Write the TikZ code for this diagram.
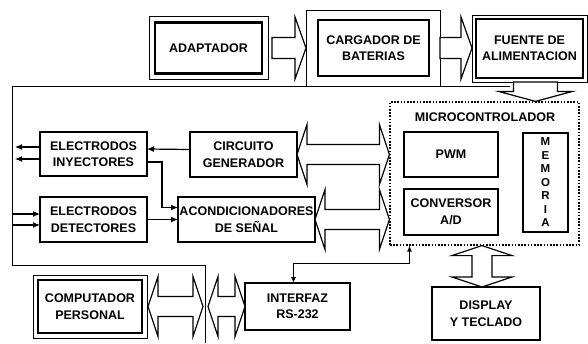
\documentclass[tikz,border=0pt]{standalone}
\usepackage{fontspec}
\setmainfont{Liberation Sans}
\usetikzlibrary{arrows.meta,calc}

% double headed block arrows (horizontal / vertical)
\newcommand{\hbiarrow}[2]{%
  \draw[blockarrow] let \p1=#1, \p2=#2 in
    (\x1,\y1) -- (\x1+10pt,\y1+30pt) -- (\x1+10pt,\y1+10pt) -- (\x2-10pt,\y1+10pt)
    -- (\x2-10pt,\y1+30pt) -- (\x2,\y1) -- (\x2-10pt,\y1-30pt) -- (\x2-10pt,\y1-10pt)
    -- (\x1+10pt,\y1-10pt) -- (\x1+10pt,\y1-30pt) -- cycle;}
\newcommand{\vbiarrow}[2]{%
  \draw[blockarrow] let \p1=#1, \p2=#2 in
    (\x1,\y1) -- (\x1+30pt,\y1-10pt) -- (\x1+10pt,\y1-10pt) -- (\x1+10pt,\y2+10pt)
    -- (\x1+30pt,\y2+10pt) -- (\x1,\y2) -- (\x1-30pt,\y2+10pt) -- (\x1-10pt,\y2+10pt)
    -- (\x1-10pt,\y1-10pt) -- (\x1-30pt,\y1-10pt) -- cycle;}
\newcommand{\rblockarrow}[2]{%
  \draw[blockarrow] let \p1=#1, \p2=#2 in
    (\x1,\y1+10.5pt) -- (\x2-11pt,\y1+10.5pt) -- (\x2-11pt,\y1+31pt) -- (\x2,\y1)
    -- (\x2-11pt,\y1-31pt) -- (\x2-11pt,\y1-10.5pt) -- (\x1,\y1-10.5pt) -- cycle;}

\tikzset{
  box/.style={draw, line width=1.2pt, align=center, inner sep=1pt, outer sep=0pt,
    font=\bfseries\fontsize{12.5}{16.5}\selectfont},
  heavybox/.style={box, line width=2.6pt},
  blockarrow/.style={draw, fill=white, line width=1.2pt, line join=miter},
  sig/.style={line width=1.2pt, -{Latex[length=7pt,width=6pt]}},
}

\begin{document}
\begin{tikzpicture}[x=1pt,y=-1pt]
  \useasboundingbox (0,0) rectangle (588,343);

  % outer frame of the board
  \coordinate (cut) at (205,265);
  \coordinate (cutl) at (203,265);
  \coordinate (cutr) at (208,265);
  \draw[line width=0.9pt] (510,86) -- (12,86) -- (12,265) -- (cut) -- (205,343);

  % power chain
  \node[heavybox, minimum width=107pt, minimum height=51pt] (adapt) at (208.5,48) {ADAPTADOR};
  \node[heavybox, minimum width=111pt, minimum height=56pt] (carg) at (373.5,48) {CARGADOR DE\\BATERIAS};
  \node[box, line width=1.6pt, minimum width=107pt, minimum height=59pt] (fuente) at (529.5,48.5) {FUENTE DE\\ALIMENTACION};
  \draw[line width=0.9pt] ([shift={(-6pt,6pt)}]adapt.north west) rectangle ([shift={(6pt,-6pt)}]adapt.south east);
  \draw[line width=0.9pt] ([shift={(-12pt,10pt)}]carg.north west) rectangle ([shift={(11pt,-10pt)}]carg.south east);
  \draw[line width=0.9pt] ([shift={(-4pt,4pt)}]fuente.north west) rectangle ([shift={(4pt,-4pt)}]fuente.south east);

  % microcontroller
  \node[draw, line width=1.2pt, dash pattern=on 1.6pt off 1.6pt, minimum width=189pt, minimum height=143pt] (mcu) at (484.5,173.5) {};
  \node[font=\bfseries\fontsize{12.5}{16.5}\selectfont] (mcutitle) at (485,117) {MICROCONTROLADOR};
  \node[box, minimum width=94pt, minimum height=45pt] (pwm) at (451,154.5) {PWM};
  \node[box, minimum width=94pt, minimum height=46pt] (ad) at (451,212) {CONVERSOR\\A/D};
  \node[box, minimum width=45pt, minimum height=99pt, font=\bfseries\fontsize{11.5}{13.5}\selectfont] (mem) at (545.5,182.5) {M\\E\\M\\O\\R\\I\\A};

  % analog part
  \node[box, minimum width=107pt, minimum height=45pt] (gen) at (243.5,154.5) {CIRCUITO\\GENERADOR};
  \node[box, minimum width=137pt, minimum height=45pt] (acond) at (246.5,219.5) {ACONDICIONADORES\\DE SEÑAL};
  \node[box, minimum width=107pt, minimum height=44pt] (iny) at (93.5,154) {ELECTRODOS\\INYECTORES};
  \node[box, minimum width=107pt, minimum height=45pt] (det) at (93.5,219.5) {ELECTRODOS\\DETECTORES};

  % outside world
  \node[heavybox, minimum width=104pt, minimum height=53pt] (pc) at (90,306.5) {COMPUTADOR\\PERSONAL};
  \draw[line width=0.9pt] ([shift={(-5pt,5pt)}]pc.north west) rectangle ([shift={(5pt,-5pt)}]pc.south east);
  \node[box, minimum width=105pt, minimum height=47pt] (rs) at (297.5,306.5) {INTERFAZ\\RS-232};
  \node[box, minimum width=108pt, minimum height=53pt] (disp) at (486,313.5) {DISPLAY\\Y TECLADO};

  % free ends of the electrode leads
  \coordinate (out1) at (15,147);
  \coordinate (out2) at (15,159);
  \coordinate (in1) at (12,214);
  \coordinate (in2) at (12,225);

  % signal lines
  \draw[sig] ([yshift=5pt]gen.west) -- ([yshift=5pt]iny.east);
  \draw[sig] (iny.west |- out1) -- (out1);
  \draw[sig] (iny.west |- out2) -- (out2);
  \draw[sig] ([yshift=-8pt]iny.east) -- ++(15,0) |- ([yshift=12pt]acond.west);
  \draw[sig] (det.east) -- (det.east -| acond.west);
  \draw[sig] (in1) -- (in1 -| det.west);
  \draw[sig] (in2) -- (in2 -| det.west);
  \draw[line width=1pt, {Latex[length=6pt,width=5pt]}-{Latex[length=6pt,width=5pt]}]
    ([xshift=-4pt]rs.north) -- ++(0,-20) -| ([xshift=-75pt]mcu.south);

  % block arrows
  \rblockarrow{([xshift=10pt]adapt.east)}{([xshift=-12pt]carg.west)}
  \rblockarrow{([xshift=11pt]carg.east)}{([xshift=-4pt]fuente.west)}
  \draw[blockarrow] let \p1=([xshift=6pt]fuente.south), \p2=(mcu.north) in
    (\x1-22pt,\y1-4pt) -- (\x1-22pt,\y2+10pt) -- (\x1-37pt,\y2+10pt) -- (\x1,\y2)
    -- (\x1+37pt,\y2+10pt) -- (\x1+22pt,\y2+10pt) -- (\x1+22pt,\y1-4pt) -- cycle;
  \hbiarrow{(gen.east)}{(mcu.west |- gen.east)}
  \hbiarrow{(acond.east)}{(mcu.west |- acond.east)}
  \hbiarrow{([xshift=6pt]pc.east)}{(cutl |- pc.east)}
  \hbiarrow{(cutr |- rs.west)}{(rs.west)}
  \coordinate (dtop) at ([xshift=-4pt]disp.north);
  \vbiarrow{(dtop |- mcu.south)}{(dtop)}
\end{tikzpicture}
\end{document}
